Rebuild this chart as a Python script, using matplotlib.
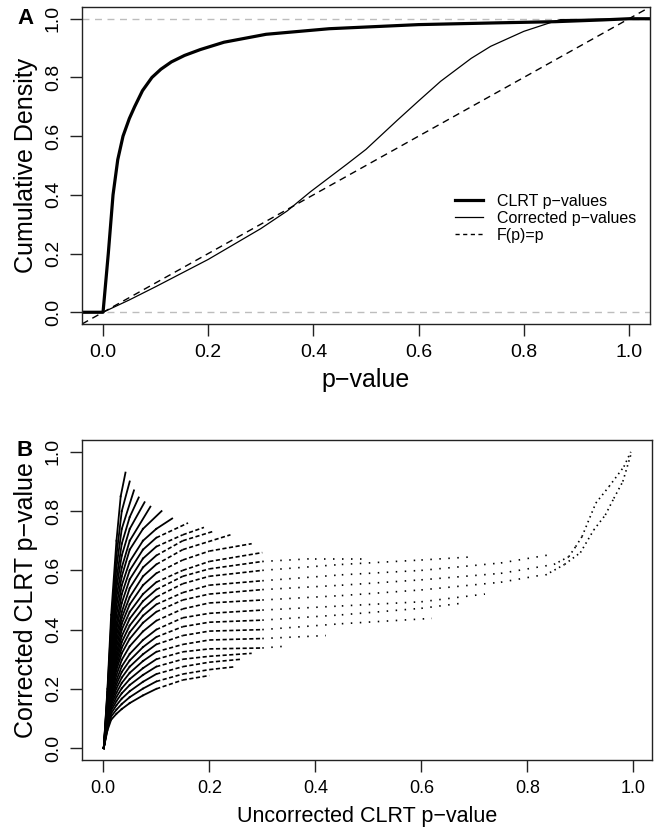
import matplotlib
matplotlib.use("Agg")
import matplotlib.pyplot as plt
from matplotlib.lines import Line2D

plt.rcParams["font.family"] = ["Liberation Sans", "DejaVu Sans"]

# ---- panel A: cumulative distributions ----
clrt_x = [-0.04, 0.0, 0.005, 0.01, 0.019, 0.028, 0.038, 0.05, 0.06, 0.075, 0.093,
          0.11, 0.13, 0.155, 0.185, 0.23, 0.31, 0.43, 0.6, 0.75, 0.86, 0.95, 1.0, 1.04]
clrt_y = [0.0, 0.0, 0.1, 0.2, 0.4, 0.52, 0.6, 0.66, 0.7, 0.755, 0.8,
          0.828, 0.853, 0.875, 0.895, 0.92, 0.947, 0.966, 0.98, 0.986, 0.99, 0.996, 1.0, 1.0]
corr_x = [0.0, 0.05, 0.1, 0.2, 0.3, 0.35, 0.394, 0.464, 0.5, 0.56, 0.6, 0.642,
          0.7, 0.737, 0.8, 0.851, 0.87, 1.0]
corr_y = [0.0, 0.042, 0.087, 0.18, 0.285, 0.345, 0.41, 0.505, 0.555, 0.655, 0.72, 0.787,
          0.865, 0.906, 0.957, 0.987, 0.997, 1.0]
ref_x = [-0.04, 1.04]
ref_y = [-0.04, 1.04]
legend_labels = ["CLRT p\u2212values", "Corrected p\u2212values", "F(p)=p"]

ticks = [0.0, 0.2, 0.4, 0.6, 0.8, 1.0]
tick_labels = ["0.0", "0.2", "0.4", "0.6", "0.8", "1.0"]

band_x = [
    [0.001, 0.008, 0.015, 0.025, 0.033, 0.042],
    [0.001, 0.008, 0.015, 0.025, 0.035, 0.05],
    [0.001, 0.008, 0.015, 0.025, 0.035, 0.058],
    [0.001, 0.008, 0.015, 0.025, 0.035, 0.05, 0.067],
    [0.001, 0.008, 0.015, 0.025, 0.035, 0.05, 0.078],
    [0.001, 0.008, 0.015, 0.025, 0.035, 0.05, 0.089],
    [0.001, 0.008, 0.015, 0.025, 0.035, 0.05, 0.075, 0.11],
    [0.001, 0.008, 0.015, 0.025, 0.035, 0.05, 0.075, 0.1, 0.13],
    [0.001, 0.008, 0.015, 0.025, 0.035, 0.05, 0.075, 0.1, 0.16],
    [0.001, 0.008, 0.015, 0.025, 0.035, 0.05, 0.075, 0.1, 0.15, 0.19],
    [0.001, 0.008, 0.015, 0.025, 0.035, 0.05, 0.075, 0.1, 0.15, 0.21],
    [0.001, 0.008, 0.015, 0.025, 0.035, 0.05, 0.075, 0.1, 0.15, 0.24],
    [0.001, 0.008, 0.015, 0.025, 0.035, 0.05, 0.075, 0.1, 0.15, 0.2, 0.28],
    [0.001, 0.008, 0.015, 0.025, 0.035, 0.05, 0.075, 0.1, 0.15, 0.2, 0.3],
    [0.001, 0.008, 0.015, 0.025, 0.035, 0.05, 0.075, 0.1, 0.15, 0.2, 0.3, 0.4, 0.5],
    [0.001, 0.008, 0.015, 0.025, 0.035, 0.05, 0.075, 0.1, 0.15, 0.2, 0.3, 0.45, 0.6, 0.7],
    [0.001, 0.008, 0.015, 0.025, 0.035, 0.05, 0.075, 0.1, 0.15, 0.2, 0.3, 0.45, 0.6, 0.75, 0.85],
    [0.001, 0.008, 0.015, 0.025, 0.035, 0.05, 0.075, 0.1, 0.15, 0.2, 0.3, 0.45, 0.6, 0.75, 0.85],
    [0.001, 0.008, 0.015, 0.025, 0.035, 0.05, 0.075, 0.1, 0.15, 0.2, 0.3, 0.45, 0.6, 0.75, 0.83],
    [0.001, 0.008, 0.015, 0.025, 0.035, 0.05, 0.075, 0.1, 0.15, 0.2, 0.3, 0.45, 0.6, 0.72],
    [0.001, 0.008, 0.015, 0.025, 0.035, 0.05, 0.075, 0.1, 0.15, 0.2, 0.3, 0.45, 0.6, 0.68],
    [0.001, 0.008, 0.015, 0.025, 0.035, 0.05, 0.075, 0.1, 0.15, 0.2, 0.3, 0.45, 0.62],
    [0.001, 0.008, 0.015, 0.025, 0.035, 0.05, 0.075, 0.1, 0.15, 0.2, 0.3, 0.42],
    [0.001, 0.008, 0.015, 0.025, 0.035, 0.05, 0.075, 0.1, 0.15, 0.2, 0.3, 0.35],
    [0.001, 0.008, 0.015, 0.025, 0.035, 0.05, 0.075, 0.1, 0.15, 0.2, 0.28],
    [0.001, 0.008, 0.015, 0.025, 0.035, 0.05, 0.075, 0.1, 0.15, 0.2, 0.26],
    [0.001, 0.008, 0.015, 0.025, 0.035, 0.05, 0.075, 0.1, 0.15, 0.2, 0.25],
    [0.001, 0.008, 0.015, 0.025, 0.035, 0.05, 0.075, 0.1, 0.15, 0.2],
]
band_y = [
    [0.0, 0.2, 0.45, 0.7, 0.85, 0.93],
    [0.0, 0.19, 0.42, 0.65, 0.8, 0.9],
    [0.0, 0.18, 0.4, 0.61, 0.74, 0.87],
    [0.0, 0.17, 0.38, 0.57, 0.69, 0.78, 0.846],
    [0.0, 0.16, 0.36, 0.54, 0.65, 0.74, 0.83],
    [0.0, 0.15, 0.34, 0.51, 0.61, 0.70, 0.815],
    [0.0, 0.145, 0.32, 0.48, 0.58, 0.67, 0.74, 0.80],
    [0.0, 0.14, 0.30, 0.45, 0.55, 0.63, 0.70, 0.74, 0.775],
    [0.0, 0.13, 0.28, 0.42, 0.52, 0.60, 0.67, 0.71, 0.76],
    [0.0, 0.125, 0.27, 0.40, 0.49, 0.57, 0.64, 0.68, 0.72, 0.745],
    [0.0, 0.12, 0.25, 0.38, 0.46, 0.54, 0.61, 0.65, 0.70, 0.733],
    [0.0, 0.115, 0.24, 0.36, 0.44, 0.51, 0.58, 0.62, 0.67, 0.72],
    [0.0, 0.11, 0.23, 0.34, 0.42, 0.485, 0.55, 0.59, 0.635, 0.665, 0.69],
    [0.0, 0.105, 0.22, 0.32, 0.40, 0.46, 0.52, 0.56, 0.60, 0.63, 0.66],
    [0.0, 0.106, 0.212, 0.305, 0.378, 0.437, 0.496, 0.535, 0.58, 0.605, 0.63, 0.64, 0.64],
    [0.0, 0.105, 0.206, 0.291, 0.358, 0.414, 0.471, 0.51, 0.555, 0.58, 0.60, 0.62, 0.635, 0.646],
    [0.0, 0.104, 0.198, 0.277, 0.339, 0.391, 0.447, 0.485, 0.525, 0.55, 0.565, 0.585, 0.60, 0.625, 0.655],
    [0.0, 0.102, 0.191, 0.264, 0.32, 0.369, 0.423, 0.46, 0.50, 0.52, 0.535, 0.55, 0.568, 0.59, 0.62],
    [0.0, 0.098, 0.181, 0.247, 0.298, 0.344, 0.394, 0.43, 0.47, 0.49, 0.50, 0.515, 0.534, 0.56, 0.585],
    [0.0, 0.095, 0.172, 0.23, 0.276, 0.318, 0.365, 0.40, 0.44, 0.455, 0.466, 0.48, 0.494, 0.52],
    [0.0, 0.092, 0.163, 0.216, 0.257, 0.296, 0.341, 0.375, 0.41, 0.425, 0.432, 0.45, 0.472, 0.49],
    [0.0, 0.089, 0.154, 0.202, 0.238, 0.275, 0.317, 0.35, 0.38, 0.395, 0.40, 0.42, 0.438],
    [0.0, 0.085, 0.146, 0.187, 0.22, 0.254, 0.294, 0.325, 0.35, 0.365, 0.37, 0.38],
    [0.0, 0.081, 0.136, 0.173, 0.202, 0.233, 0.27, 0.30, 0.325, 0.335, 0.338, 0.345],
    [0.0, 0.076, 0.127, 0.159, 0.185, 0.213, 0.247, 0.275, 0.30, 0.31, 0.32],
    [0.0, 0.071, 0.117, 0.145, 0.167, 0.192, 0.224, 0.25, 0.275, 0.29, 0.30],
    [0.0, 0.066, 0.107, 0.13, 0.149, 0.172, 0.201, 0.225, 0.25, 0.265, 0.275],
    [0.0, 0.06, 0.096, 0.116, 0.132, 0.152, 0.178, 0.2, 0.23, 0.245],
]
# the two branches near p = 1
right_upper_x = [0.85, 0.878, 0.891, 0.903, 0.929, 0.954, 0.982, 0.995]
right_upper_y = [0.62, 0.646, 0.68, 0.714, 0.827, 0.883, 0.95, 1.0]
right_lower_x = [0.834, 0.87, 0.9, 0.925, 0.947, 0.963, 0.98, 0.995]
right_lower_y = [0.584, 0.62, 0.66, 0.736, 0.787, 0.843, 0.9, 0.99]


def style_axes(ax, xsize=14):
    ax.set_xlim(-0.04, 1.04)
    ax.set_ylim(-0.04, 1.04)
    ax.set_xticks(ticks)
    ax.set_xticklabels(tick_labels)
    ax.set_yticks(ticks)
    ax.set_yticklabels(tick_labels, rotation=90, va="center")
    ax.tick_params(direction="out", length=8.5, width=1, pad=6, labelsize=14, color="#222222")
    ax.tick_params(axis="x", labelsize=xsize)
    for s in ax.spines.values():
        s.set_linewidth(1.0)
        s.set_color("#222222")


def seg_kwargs(xm):
    if xm < 0.12:
        return dict(ls="-", lw=1.3)
    if xm < 0.3:
        return dict(ls=(0, (2.5, 1.5)), lw=1.2)
    if xm < 0.84:
        return dict(ls=(0, (0.9, 4.5)), lw=1.2)
    return dict(ls=(0, (0.9, 2.2)), lw=1.2)


def draw_band(ax, xs, ys):
    for i in range(len(xs) - 1):
        xm = 0.5 * (xs[i] + xs[i + 1])
        ax.plot(xs[i:i + 2], ys[i:i + 2], color="black", **seg_kwargs(xm))


fig = plt.figure(figsize=(6.59, 8.30), dpi=100)

# panel A
axA = fig.add_axes([82 / 659, 1 - 324 / 830, 568 / 659, 317 / 830])
axA.axhline(0, color="#bdbdbd", lw=1, ls=(0, (5, 4)))
axA.axhline(1, color="#bdbdbd", lw=1, ls=(0, (5, 4)))
axA.plot(ref_x, ref_y, color="black", lw=1.0, ls=(0, (5, 3.5)))
axA.plot(corr_x, corr_y, color="black", lw=0.9)
axA.plot(clrt_x, clrt_y, color="black", lw=2.3)
style_axes(axA)
axA.set_ylabel("Cumulative Density", fontsize=18)
axA.set_xlabel("p\u2212value", fontsize=18)
axA.yaxis.set_label_coords(-0.0986, 0.5)
axA.yaxis.label.set_va("center")
axA.xaxis.set_label_coords(0.5, -0.177)
axA.xaxis.label.set_va("center")
handles = [Line2D([], [], color="black", lw=2.3),
           Line2D([], [], color="black", lw=0.9),
           Line2D([], [], color="black", lw=1.0, ls=(0, (3, 2.5)))]
axA.legend(handles, legend_labels, loc="upper left", bbox_to_anchor=(0.657, 0.41),
           frameon=False, fontsize=11.5, handlelength=1.75, handletextpad=0.85,
           labelspacing=0.12, borderpad=0, borderaxespad=0)

# panel B
axB = fig.add_axes([82 / 659, 1 - 760 / 830, 570 / 659, 320 / 830])
for xs, ys in zip(band_x, band_y):
    draw_band(axB, xs, ys)
draw_band(axB, right_upper_x, right_upper_y)
draw_band(axB, right_lower_x, right_lower_y)
style_axes(axB, xsize=13)
axB.set_xlim(-0.04, 1.035)
axB.set_ylabel("Corrected CLRT p\u2212value", fontsize=18)
axB.set_xlabel("Uncorrected CLRT p\u2212value", fontsize=15.5)
axB.yaxis.set_label_coords(-0.098, 0.5)
axB.yaxis.label.set_va("center")
axB.xaxis.set_label_coords(0.5, -0.175)
axB.xaxis.label.set_va("center")

fig.text(26 / 659, 1 - 18 / 830, "A", fontsize=16, fontweight="bold", ha="center", va="center")
fig.text(25 / 659, 1 - 450 / 830, "B", fontsize=16, fontweight="bold", ha="center", va="center")

fig.savefig("out.png", dpi=100, facecolor="white")
